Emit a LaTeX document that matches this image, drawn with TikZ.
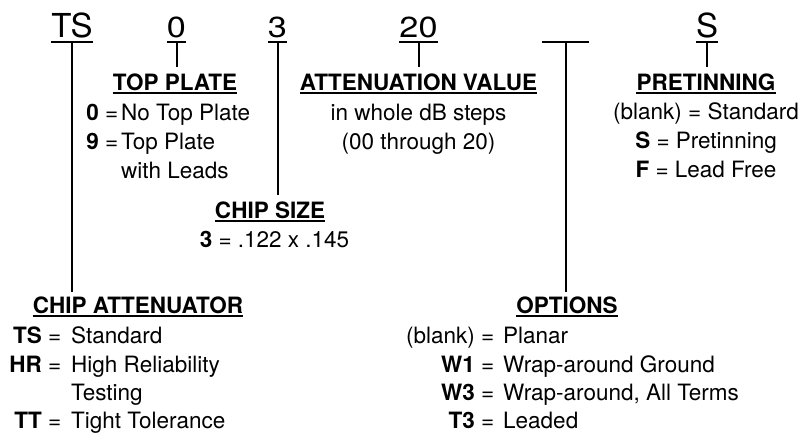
\documentclass[tikz,border=0pt]{standalone}
\usepackage{fontspec}
\setmainfont{TeX Gyre Heros}
\begin{document}
\begin{tikzpicture}[x=1pt,y=-1pt]
\tikzset{
  codetxt/.style={font=\fontsize{33}{40}\selectfont, inner sep=0, anchor=base},
  digtxt/.style={font=\fontsize{29}{36}\selectfont, inner sep=0, anchor=base},
  head/.style={font=\fontsize{22.5}{27}\selectfont\bfseries, inner sep=0, anchor=base},
  body/.style={font=\fontsize{22.5}{27}\selectfont, inner sep=0},
  lbl/.style={body, anchor=base east},
  val/.style={body, anchor=base west},
  ctr/.style={body, anchor=base},
  conn/.style={line width=2pt},
  ul/.style={line width=1.6pt},
  hul/.style={line width=1.5pt},
}
\useasboundingbox (0,0) rectangle (804,434);

% ---- top code row ----
\node[codetxt] (ts) at (72,37) {TS};
\node[digtxt] (p0) at (176.5,37) {\scalebox{1.18}[1]{0}};
\node[digtxt] (p3) at (277.5,37) {\scalebox{1.18}[1]{3}};
\node[digtxt] (p20) at (418.5,37) {\scalebox{1.18}[1]{20}};
\coordinate (blw) at (542,42);
\coordinate (ble) at (589,42);
\coordinate (bl) at (566,42);
\node[codetxt] (ps) at (707,37) {S};

\foreach \n in {ts,p0,p3,p20,ps}{
  \draw[ul] ([yshift=-5pt]\n.base west) -- ([yshift=-5pt]\n.base east);
}
\draw[ul] (blw) -- (ble);

% ---- headings ----
\node[head] (tp) at (175,90) {TOP PLATE};
\node[head] (av) at (418.5,90) {ATTENUATION VALUE};
\node[head] (pr) at (706,90) {PRETINNING};
\node[head] (cs) at (270,218) {CHIP SIZE};
\node[head] (ca) at (138,313) {CHIP ATTENUATOR};
\node[head] (op) at (567,313) {OPTIONS};
\foreach \n in {tp,av,pr,cs,ca,op}{
  \draw[hul] ([yshift=-3pt]\n.base west) -- ([yshift=-3pt]\n.base east);
}

% ---- connectors ----
\draw[conn, shorten >=4.5pt] ([yshift=-5pt]ts.base) -- (ts.base |- ca.north);
\draw[conn, shorten >=6pt] ([yshift=-5pt]p0.base) -- (p0.base |- tp.north);
\draw[conn, shorten >=6pt] ([yshift=-5pt]p3.base) -- (p3.base |- cs.north);
\draw[conn, shorten >=6pt] ([yshift=-5pt]p20.base) -- (p20.base |- av.north);
\draw[conn, shorten >=4.5pt] (bl) -- (bl |- op.north);
\draw[conn, shorten >=6pt] ([yshift=-5pt]ps.base) -- (ps.base |- pr.north);

% ---- top plate ----
\node[lbl] (tp0c) at (118.5,120) {\textbf{0} =};
\node[val] (tp0v) at (121,120) {No Top Plate};
\node[lbl] (tp9c) at (118.5,149) {\textbf{9} =};
\node[val] (tp9v) at (121,149) {Top Plate};
\node[val] (tp9w) at (121,178) {with Leads};

% ---- attenuation value ----
\node[ctr] (av1) at (418.5,120) {in whole dB steps};
\node[ctr] (av2) at (418.5,149) {(00 through 20)};

% ---- pretinning ----
\node[ctr] (pr1) at (706,119) {(blank) = Standard};
\node[ctr] (pr2) at (706,148) {\textbf{S} = Pretinning};
\node[ctr] (pr3) at (706,177) {\textbf{F} = Lead Free};

% ---- chip size ----
\node[ctr] (cs1) at (274.5,247) {\textbf{3} = .122 x .145};

% ---- chip attenuator ----
\node[lbl] (ca1c) at (61.5,343) {\textbf{TS} =};
\node[val] (ca1v) at (71,343) {Standard};
\node[lbl] (ca2c) at (61.5,372) {\textbf{HR} =};
\node[val] (ca2v) at (71,372) {High Reliability};
\node[val] (ca2w) at (71,400) {Testing};
\node[lbl] (ca3c) at (61.5,428) {\textbf{TT} =};
\node[val] (ca3v) at (71,428) {Tight Tolerance};

% ---- options ----
\node[lbl] (op1c) at (494.5,343) {(blank) =};
\node[val] (op1v) at (503,343) {Planar};
\node[lbl] (op2c) at (494.5,372) {\textbf{W1} =};
\node[val] (op2v) at (503,372) {Wrap-around Ground};
\node[lbl] (op3c) at (494.5,400) {\textbf{W3} =};
\node[val] (op3v) at (503,400) {Wrap-around, All Terms};
\node[lbl] (op4c) at (494.5,428) {\textbf{T3} =};
\node[val] (op4v) at (503,428) {Leaded};
\end{tikzpicture}
\end{document}
